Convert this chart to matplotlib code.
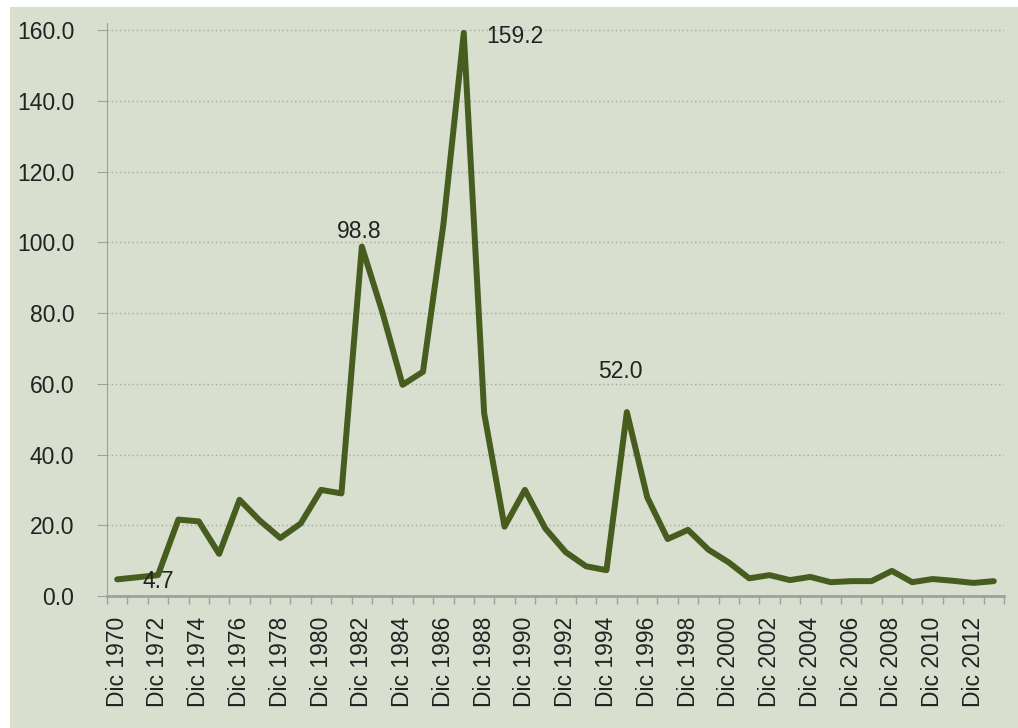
import matplotlib.pyplot as plt
import matplotlib.patches as patches
import numpy as np

years = list(range(1970, 2014))
values = [4.7, 5.3, 5.9, 21.6, 21.1, 11.9, 27.2, 21.3, 16.4, 20.5,
          30.0, 29.0, 98.8, 80.4, 59.7, 63.4, 105.0, 159.2, 51.7, 19.6,
          30.0, 19.1, 12.4, 8.4, 7.3, 52.0, 27.9, 16.1, 18.7, 13.1,
          9.5, 5.0, 5.9, 4.5, 5.4, 3.9, 4.2, 4.2, 7.1, 3.9,
          4.8, 4.3, 3.7, 4.2]
tick_labels = ["Dic %d" % y for y in years]

# manual data labels: (text, x index, y value)
labels = [("4.7", 1.22, 4.0), ("98.8", 10.8, 103.0),
          ("159.2", 18.1, 158.1), ("52.0", 23.6, 63.4)]

bg = "#d8dfce"
line_color = "#465d1f"
axis_gray = "#a0a0a0"
text_color = "#222222"
fs = 16.5

plt.rcParams['font.family'] = ['Liberation Sans', 'DejaVu Sans']

fig = plt.figure(figsize=(10.18, 7.28), dpi=100)
fig.patch.set_facecolor("white")
fig.patches.append(patches.Rectangle((10 / 1018, 0), 1 - 10 / 1018, 1 - 7 / 728,
                                     transform=fig.transFigure, facecolor=bg,
                                     edgecolor="none", zorder=-10))

ax = fig.add_axes([107 / 1018, 132 / 728, (1004 - 107) / 1018, (596 - 23) / 728])
ax.set_facecolor("none")

x = np.arange(len(values))
ax.plot(x, values, color=line_color, linewidth=4.3, solid_joinstyle="round",
        solid_capstyle="round", zorder=3)

for txt, lx, ly in labels:
    ax.text(lx, ly, txt, ha="left", va="center", fontsize=fs, color=text_color, zorder=4)

ax.set_xlim(-0.5, len(values) - 0.5)
ax.set_ylim(0, 162)

ax.set_yticks(np.arange(0, 161, 20))
ax.set_yticklabels(["%.1f" % v for v in np.arange(0, 161, 20)])
ax.yaxis.grid(True, linestyle=(0, (1, 2)), color="#a8a8a8", linewidth=1.0)
ax.set_axisbelow(True)

ax.set_xticks(x[::2])
ax.set_xticklabels(tick_labels[::2], rotation=90)
ax.set_xticks(np.arange(-0.5, len(values), 1), minor=True)

ax.tick_params(axis="y", labelsize=fs, length=7, color=axis_gray, pad=16.5, labelcolor=text_color)
ax.tick_params(axis="x", which="major", length=0, labelsize=fs, pad=15, labelcolor=text_color)
ax.tick_params(axis="x", which="minor", length=6, color=axis_gray, width=1)

for side in ["top", "right"]:
    ax.spines[side].set_visible(False)
ax.spines["left"].set_color(axis_gray)
ax.spines["bottom"].set_color(axis_gray)
ax.spines["bottom"].set_linewidth(2)

fig.savefig("out.png", dpi=100, facecolor=fig.get_facecolor())
